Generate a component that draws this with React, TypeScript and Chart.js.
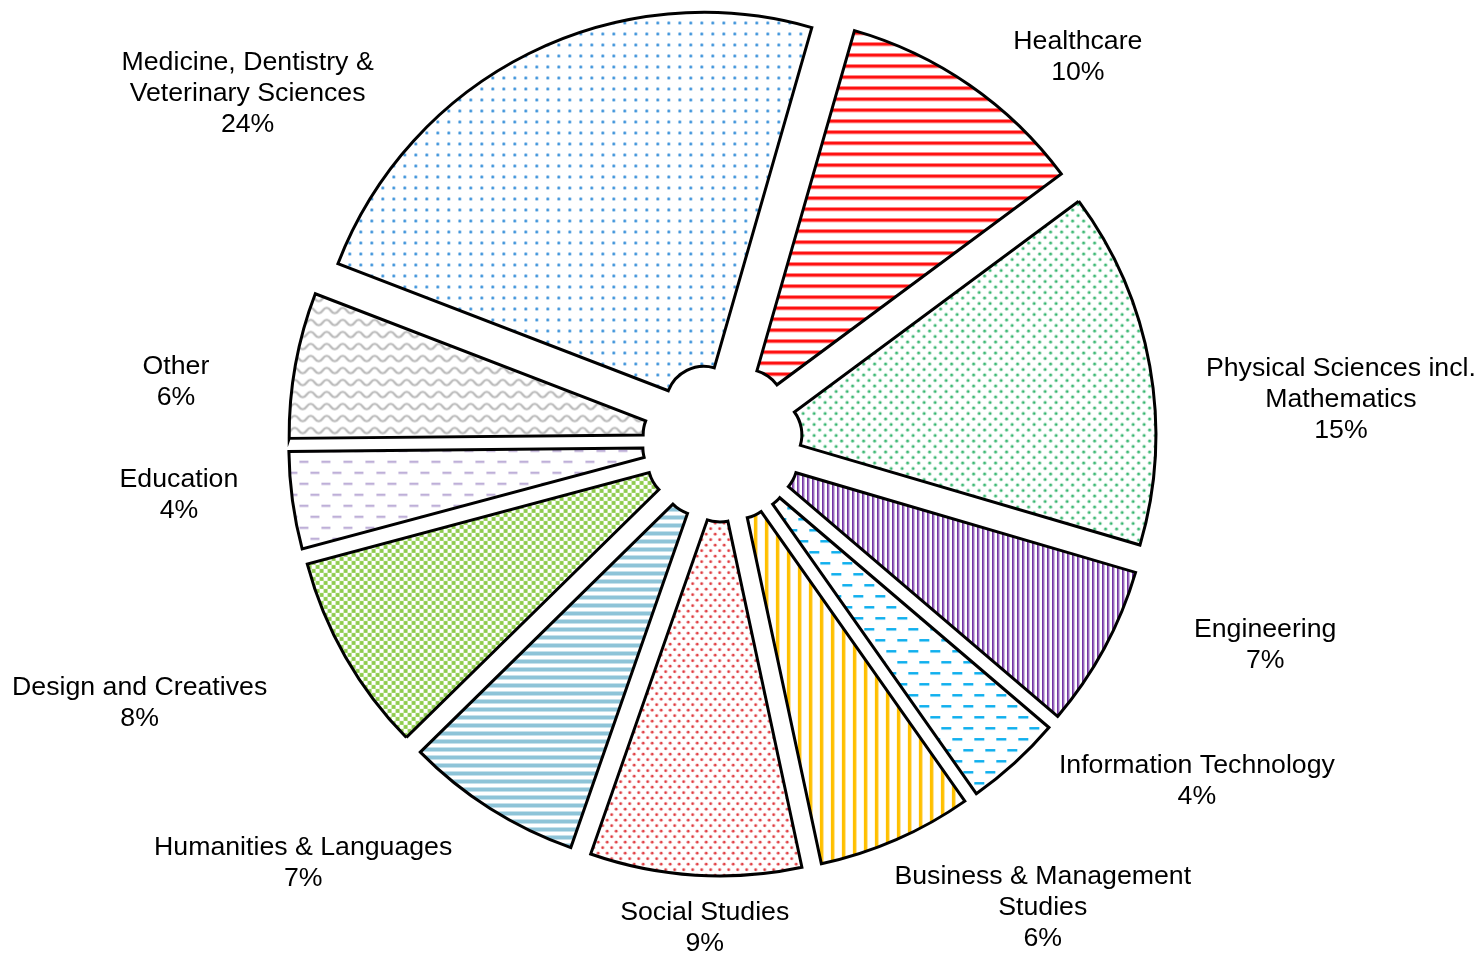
import React, { useEffect, useRef } from 'react';
import { Chart, registerables } from 'chart.js';

Chart.register(...registerables);

// ---- data ----
const categories: string[][] = [
  ['Healthcare'],
  ['Physical Sciences incl.', 'Mathematics'],
  ['Engineering'],
  ['Information Technology'],
  ['Business & Management', 'Studies'],
  ['Social Studies'],
  ['Humanities & Languages'],
  ['Design and Creatives'],
  ['Education'],
  ['Other'],
  ['Medicine, Dentistry &', 'Veterinary Sciences'],
];
// estimated shares (%); labels show them rounded
const shares: number[] = [10.4, 14.7, 6.7, 4.0, 6.4, 8.7, 7.3, 8.2, 4.0, 6.0, 23.6];

// ---- layout / style ----
const START_ROTATION = 16; // degrees
const OUTER_RADIUS = 392;
const HOLE = '9.7%';
const EXPLODE = 42;
const FONT = '26.7px "Liberation Sans", Arial, sans-serif';
const LINE_H = 31;
const TEXT_DY = 1.5;
// label placement: [angle deg clockwise from top, distance] from chart centre
const LABEL_POLAR: [number, number][] = [
  [42.6, 525],
  [85.9, 620],
  [110.4, 579],
  [125.4, 582],
  [145.4, 564],
  [182.1, 485],
  [225.0, 593],
  [246.0, 638],
  [264.6, 546],
  [276.4, 550],
  [306.4, 590],
];

type Painter = (g: CanvasRenderingContext2D) => void;
function makePattern(w: number, h: number, paint: Painter): CanvasPattern | string {
  const c = document.createElement('canvas');
  c.width = w;
  c.height = h;
  const g = c.getContext('2d')!;
  g.fillStyle = '#ffffff';
  g.fillRect(0, 0, w, h);
  paint(g);
  return g.createPattern(c, 'repeat') || '#fff';
}
function dot(g: CanvasRenderingContext2D, x: number, y: number, r: number) {
  g.beginPath();
  g.arc(x, y, r, 0, Math.PI * 2);
  g.fill();
}

function buildPatterns() {
  const healthcare = makePattern(11, 11, (g) => {
    g.fillStyle = '#FF1010';
    g.fillRect(0, 0, 11, 3);
    g.fillStyle = '#FFB0B0';
    g.fillRect(0, 3, 11, 1);
  });
  const physical = makePattern(11, 11, (g) => {
    g.fillStyle = '#35B56E';
    dot(g, 2.75, 2.75, 1.5);
    dot(g, 8.25, 8.25, 1.5);
  });
  const engineering = makePattern(5, 5, (g) => {
    g.fillStyle = '#7434A4';
    g.fillRect(0, 0, 1.8, 5);
    g.fillStyle = '#C2A9DA';
    g.fillRect(1.8, 0, 1, 5);
  });
  const it = makePattern(22, 22, (g) => {
    g.fillStyle = '#10B0EE';
    g.fillRect(0, 3, 10, 2.5);
    g.fillRect(11, 14, 10, 2.5);
  });
  const business = makePattern(11, 4, (g) => {
    g.fillStyle = '#FFC000';
    g.fillRect(0, 0, 3, 4);
    g.fillStyle = '#FFE08A';
    g.fillRect(3, 0, 1, 4);
  });
  const social = makePattern(9, 11, (g) => {
    g.fillStyle = '#E03C40';
    dot(g, 2.25, 2.75, 1.4);
    dot(g, 6.75, 8.25, 1.4);
  });
  const humanities = makePattern(4, 8, (g) => {
    g.fillStyle = '#8EC4D8';
    g.fillRect(0, 0, 4, 4);
  });
  const design = makePattern(8, 8, (g) => {
    g.fillStyle = '#8ECC4C';
    g.fillRect(0.1, 0.1, 3.9, 3.9);
    g.fillRect(4.1, 4.1, 3.9, 3.9);
  });
  const education = makePattern(22, 22, (g) => {
    g.fillStyle = '#BEAFD8';
    g.fillRect(0, 4, 9, 2.3);
    g.fillRect(11, 15, 9, 2.3);
  });
  const other = makePattern(16, 12, (g) => {
    g.strokeStyle = '#BABABA';
    g.lineWidth = 2.2;
    g.beginPath();
    g.moveTo(-4, 6);
    g.quadraticCurveTo(0, 0.5, 4, 6);
    g.quadraticCurveTo(8, 11.5, 12, 6);
    g.quadraticCurveTo(16, 0.5, 20, 6);
    g.stroke();
  });
  const medicine = makePattern(11, 11, (g) => {
    g.fillStyle = '#2E8BD8';
    dot(g, 5.5, 5.5, 1.5);
  });
  return [healthcare, physical, engineering, it, business, social, humanities, design, education, other, medicine];
}

const explodePlugin = {
  id: 'explodeSlices',
  beforeDatasetDraw(chart: any, args: any) {
    const ctx: CanvasRenderingContext2D = chart.ctx;
    args.meta.data.forEach((arc: any) => {
      const mid = (arc.startAngle + arc.endAngle) / 2;
      ctx.save();
      ctx.translate(Math.cos(mid) * EXPLODE, Math.sin(mid) * EXPLODE);
      arc.draw(ctx);
      ctx.restore();
    });
    return false;
  },
  afterDatasetsDraw(chart: any) {
    const ctx: CanvasRenderingContext2D = chart.ctx;
    const meta = chart.getDatasetMeta(0);
    ctx.save();
    ctx.font = FONT;
    ctx.fillStyle = '#000000';
    ctx.textAlign = 'center';
    ctx.textBaseline = 'middle';
    meta.data.forEach((arc: any, i: number) => {
      const [deg, dist] = LABEL_POLAR[i];
      const a = ((deg - 90) * Math.PI) / 180;
      const x = arc.x + Math.cos(a) * dist;
      const y = arc.y + Math.sin(a) * dist + TEXT_DY;
      const lines = [...categories[i], `${Math.round(shares[i])}%`];
      lines.forEach((ln, j) => {
        ctx.fillText(ln, x, y + (j - (lines.length - 1) / 2) * LINE_H);
      });
    });
    ctx.restore();
  },
};

export default function App() {
  const ref = useRef<HTMLCanvasElement | null>(null);
  useEffect(() => {
    if (!ref.current) return;
    const patterns = buildPatterns();
    const chart = new Chart(ref.current, {
      type: 'doughnut',
      data: {
        labels: categories.map((c) => c.join(' ')),
        datasets: [
          {
            data: shares,
            backgroundColor: patterns as any,
            borderColor: '#000000',
            borderWidth: 3,
            borderJoinStyle: 'miter',
            hoverOffset: 0,
          } as any,
        ],
      },
      options: {
        responsive: false,
        animation: false,
        rotation: START_ROTATION,
        radius: OUTER_RADIUS,
        cutout: HOLE,
        layout: { padding: { left: 0, right: 34, top: 0, bottom: 69 } },
        plugins: {
          legend: { display: false },
          tooltip: { enabled: false },
        },
        events: [],
      } as any,
      plugins: [explodePlugin as any],
    });
    return () => chart.destroy();
  }, []);
  return (
    <div style={{ position: 'fixed', left: 0, top: 0, width: 1479, height: 953, background: '#fff' }}>
      <canvas ref={ref} width={1479} height={953} style={{ display: 'block' }} />
    </div>
  );
}
